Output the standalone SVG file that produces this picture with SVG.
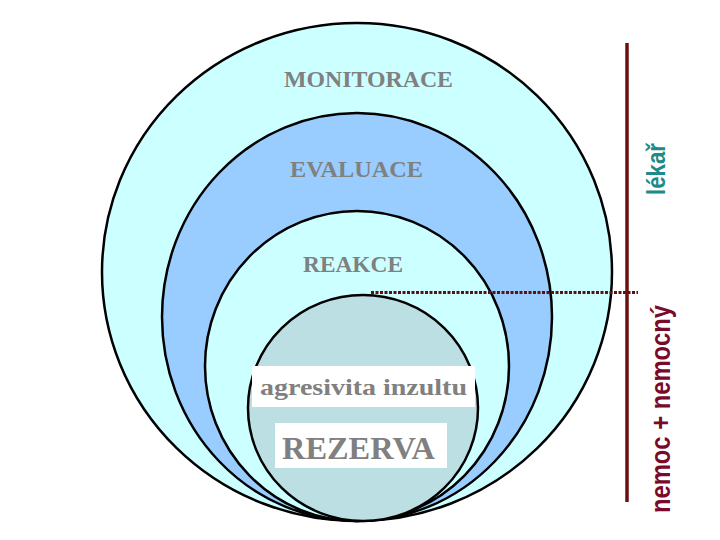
<svg xmlns="http://www.w3.org/2000/svg" width="720" height="540" viewBox="0 0 720 540">
<style>
.ring{stroke:#000;stroke-width:2.5}
.lbl{font-family:"Liberation Serif","Times New Roman",serif;font-weight:bold;fill:#808080}
.side{font-family:"Liberation Sans",Arial,sans-serif;font-weight:bold}
.box{fill:#fff}
</style>
<rect width="720" height="540" fill="#fff"/>
<g id="monitorace">
<ellipse class="ring" cx="357" cy="272" rx="255" ry="249" fill="#ccffff"/>
<text class="lbl" x="284" y="87" font-size="24" textLength="169" lengthAdjust="spacingAndGlyphs">MONITORACE</text>
</g>
<g id="evaluace">
<ellipse class="ring" cx="357" cy="317" rx="195" ry="204" fill="#99ccff"/>
<text class="lbl" x="290" y="177" font-size="23.5" textLength="133" lengthAdjust="spacingAndGlyphs">EVALUACE</text>
</g>
<g id="reakce">
<ellipse class="ring" cx="357" cy="366" rx="152" ry="155" fill="#ccffff"/>
<text class="lbl" x="303" y="272" font-size="23" textLength="100" lengthAdjust="spacingAndGlyphs">REAKCE</text>
</g>
<g id="rezerva">
<ellipse class="ring" cx="363" cy="408" rx="115" ry="113" fill="#bbdfe2"/>
<rect class="box" x="252" y="366" width="223" height="41"/>
<text class="lbl" x="260" y="395" font-size="24" textLength="207" lengthAdjust="spacingAndGlyphs">agresivita inzultu</text>
<rect class="box" x="275" y="423" width="172" height="45"/>
<text class="lbl" x="282" y="459" font-size="31.5" textLength="153" lengthAdjust="spacingAndGlyphs">REZERVA</text>
</g>
<g id="connectors">
<line x1="371" y1="292.5" x2="638" y2="292.5" stroke="#5c1010" stroke-width="3" stroke-dasharray="3 1.5"/>
<line x1="627" y1="43" x2="627" y2="502" stroke="#6b1010" stroke-width="3.5"/>
</g>
<g id="lekar">
<text class="side" transform="translate(665,195) rotate(-90)" font-size="25" fill="#1f8a8a" textLength="52" lengthAdjust="spacingAndGlyphs">lékař</text>
</g>
<g id="nemoc">
<text class="side" transform="translate(670,513) rotate(-90)" font-size="27" fill="#7a0a2a" textLength="208" lengthAdjust="spacingAndGlyphs">nemoc + nemocný</text>
</g>
</svg>
